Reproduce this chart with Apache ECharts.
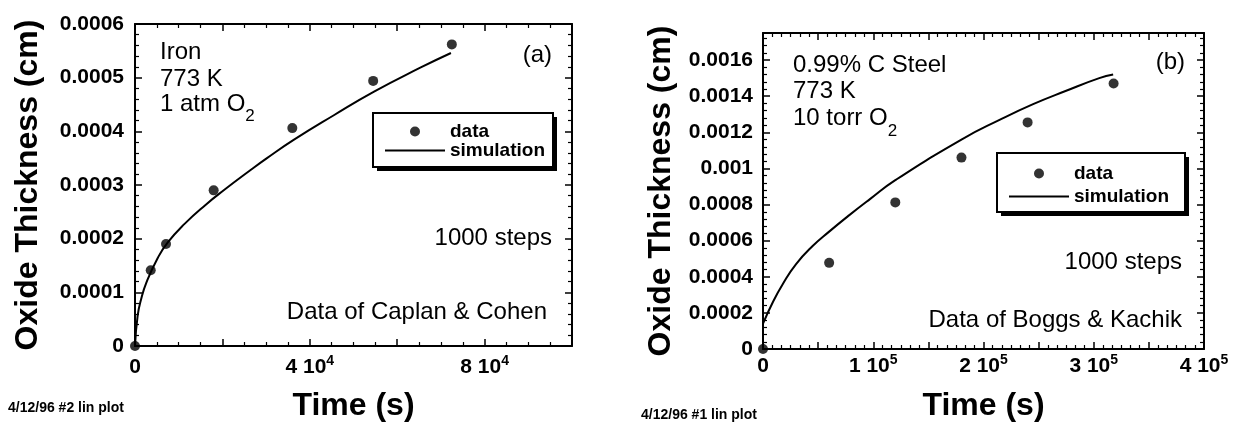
<!DOCTYPE html>
<html>
<head>
<meta charset="utf-8">
<script src="https://cdn.jsdelivr.net/npm/echarts@6.0.0/dist/echarts.min.js"></script>
<style>
  html, body { margin: 0; padding: 0; background: #fff; }
  #chart { width: 1233px; height: 427px; }
</style>
</head>
<body>
<div id="chart"></div>
<script>
// (a) Iron, 773 K, 1 atm O2 -- Caplan & Cohen
const timeA = [0, 3600, 7100, 18000, 36000, 54500, 72500];
const thickA = [0, 0.000141, 0.000190, 0.000290, 0.000406, 0.000494, 0.000562];
const simTimeA = [0, 600, 1400, 2600, 5200, 7500, 11400, 16000, 20600, 26300, 30200, 36300, 45500, 54700, 65400, 72300];
const simThickA = [0, 0.000056, 0.000087, 0.000118, 0.000164, 0.000193, 0.000228, 0.000262, 0.000292, 0.000327, 0.000350, 0.000384, 0.000430, 0.000474, 0.000519, 0.000546];

// (b) 0.99% C steel, 773 K, 10 torr O2 -- Boggs & Kachik
const timeB = [0, 60000, 120000, 180000, 240000, 318000];
const thickB = [0, 0.000477, 0.000812, 0.00106, 0.001255, 0.00147];
const simTimeB = [0, 9000, 18000, 30000, 45000, 60000, 78000, 97000, 120000, 180000, 215000, 245000, 275000, 305000, 317600];
const simThickB = [0.00014, 0.00026, 0.00036, 0.00047, 0.00057, 0.00065, 0.00074, 0.00083, 0.000935, 0.00116, 0.00127, 0.001356, 0.00143, 0.0015, 0.00152];

// labelled ticks
const xLabelsA = [0, 40000, 80000];
const xLabelsB = [0, 100000, 200000, 300000, 400000];
const seriesNames = ['data', 'simulation'];

const FONT = "'Liberation Sans', Arial, Helvetica, sans-serif";

function pairs(xs, ys) {
  return xs.map((x, i) => [x, ys[i]]);
}

function sciLabel(list, exp) {
  return function (v) {
    if (list.indexOf(v) < 0) return '';
    if (v === 0) return '0';
    return '{m|' + (v / Math.pow(10, exp)) + ' 10}{s|' + exp + '}';
  };
}

function decLabel(step) {
  return function (v) {
    const r = v / step;
    if (Math.abs(r - Math.round(r)) > 1e-6) return '';
    if (v === 0) return '0';
    return parseFloat(v.toFixed(5)).toString();
  };
}

const supRich = {
  m: { fontFamily: FONT, fontWeight: 'bold', fontSize: 21, lineHeight: 26, color: '#000' },
  s: { fontFamily: FONT, fontWeight: 'bold', fontSize: 14, lineHeight: 14, verticalAlign: 'top', color: '#000' }
};

function frameAxis(gridIndex, position, min, max, interval, minorSplit) {
  return {
    type: 'value',
    gridIndex: gridIndex,
    position: position,
    min: min,
    max: max,
    interval: interval,
    axisLine: { show: true, onZero: false, lineStyle: { color: '#000', width: 2 } },
    axisTick: { show: true, inside: true, length: 7, lineStyle: { color: '#000', width: 1.5 } },
    minorTick: { show: true, splitNumber: minorSplit, length: 4, lineStyle: { color: '#000', width: 1.2 } },
    splitLine: { show: false },
    minorSplitLine: { show: false },
    axisLabel: { show: false }
  };
}

const labelBase = { show: true, color: '#000', fontFamily: FONT, fontWeight: 'bold', fontSize: 21 };
const nameStyle = { color: '#000', fontFamily: FONT, fontWeight: 'bold', fontSize: 32 };

const xA = frameAxis(0, 'bottom', 0, 100000, 20000, 4);
xA.axisLabel = Object.assign({}, labelBase, { margin: 8, lineHeight: 26, formatter: sciLabel(xLabelsA, 4), rich: supRich });
xA.name = 'Time (s)';
xA.nameLocation = 'middle';
xA.nameGap = 44;
xA.nameTextStyle = nameStyle;

const xB = frameAxis(1, 'bottom', 0, 400000, 50000, 6);
xB.axisLabel = Object.assign({}, labelBase, { margin: 4, lineHeight: 26, formatter: sciLabel(xLabelsB, 5), rich: supRich });
xB.name = 'Time (s)';
xB.nameLocation = 'middle';
xB.nameGap = 41;
xB.nameTextStyle = nameStyle;

const yA = frameAxis(0, 'left', 0, 0.0006, 0.0001, 5);
yA.axisLabel = Object.assign({}, labelBase, { margin: 11, formatter: decLabel(0.0001) });
yA.name = 'Oxide Thickness (cm)';
yA.nameLocation = 'middle';
yA.nameGap = 91;
yA.nameTextStyle = nameStyle;

const yB = frameAxis(1, 'left', 0, 0.00175, 0.0002, 5);
yB.axisLabel = Object.assign({}, labelBase, { margin: 10, formatter: decLabel(0.0002) });
yB.name = 'Oxide Thickness (cm)';
yB.nameLocation = 'middle';
yB.nameGap = 86;
yB.nameTextStyle = nameStyle;

// flat 2px bar used as the legend glyph for the simulation line
const lineIcon = 'path://M0,0H30V1H0Z';

function legendBox(left, top, gap) {
  return {
    orient: 'vertical',
    left: left,
    top: top,
    z: 10,
    data: [{ name: seriesNames[0], icon: 'circle' }, { name: seriesNames[1], icon: lineIcon }],
    itemWidth: 60,
    itemHeight: 10,
    itemGap: gap,
    padding: 0,
    selectedMode: false,
    textStyle: { color: '#000', fontFamily: FONT, fontWeight: 'bold', fontSize: 19 }
  };
}

// drop shadow + framed box behind each legend
function shadowRect(x, y, w, h) {
  return { type: 'rect', silent: true, z: 5, shape: { x: x + 4, y: y + 4, width: w, height: h }, style: { fill: '#000' } };
}
function boxRect(x, y, w, h) {
  return { type: 'rect', silent: true, z: 6, shape: { x: x, y: y, width: w, height: h }, style: { fill: '#fff', stroke: '#000', lineWidth: 2 } };
}

function note(x, y, text, align, size, weight, rich, lineHeight) {
  const style = {
    text: text,
    x: 0, y: 0,
    fill: '#000',
    fontFamily: FONT,
    fontSize: size,
    fontWeight: weight || 'normal',
    align: align, textAlign: align,
    verticalAlign: 'middle', textVerticalAlign: 'middle'
  };
  if (rich) style.rich = rich;
  if (lineHeight) style.lineHeight = lineHeight;
  return { type: 'text', x: x, y: y, silent: true, style: style };
}

const subRich = { sub: { fontFamily: FONT, fontSize: 17, lineHeight: 17, verticalAlign: 'bottom', fill: '#000' } };

let chart = echarts.init(document.getElementById('chart'), null, { renderer: 'canvas' });

const option = {
  backgroundColor: '#fff',
  animation: false,
  grid: [
    { left: 135, top: 24, width: 437, height: 322.5 },
    { left: 763, top: 33, width: 441, height: 321.5 }
  ],
  xAxis: [
    xA,
    frameAxis(0, 'top', 0, 100000, 20000, 4),
    xB,
    frameAxis(1, 'top', 0, 400000, 50000, 6)
  ],
  yAxis: [
    yA,
    frameAxis(0, 'right', 0, 0.0006, 0.0001, 5),
    yB,
    frameAxis(1, 'right', 0, 0.00175, 0.0002, 5)
  ],
  legend: [
    legendBox(385, 122, 0),
    legendBox(1009, 164, 4)
  ],
  series: [
    {
      name: seriesNames[1], type: 'line', xAxisIndex: 0, yAxisIndex: 0,
      data: pairs(simTimeA, simThickA),
      smooth: 0.5, symbol: 'none', showSymbol: false,
      lineStyle: { color: '#000', width: 2 }, itemStyle: { color: '#000' }
    },
    {
      name: seriesNames[0], type: 'scatter', xAxisIndex: 0, yAxisIndex: 0,
      data: pairs(timeA, thickA), clip: false,
      symbol: 'circle', symbolSize: 10, itemStyle: { color: '#000' }
    },
    {
      name: seriesNames[1], type: 'line', xAxisIndex: 2, yAxisIndex: 2,
      data: pairs(simTimeB, simThickB),
      smooth: 0.5, symbol: 'none', showSymbol: false,
      lineStyle: { color: '#000', width: 2 }, itemStyle: { color: '#000' }
    },
    {
      name: seriesNames[0], type: 'scatter', xAxisIndex: 2, yAxisIndex: 2,
      data: pairs(timeB, thickB), clip: false,
      symbol: 'circle', symbolSize: 10, itemStyle: { color: '#000' }
    }
  ],
  graphic: [
    shadowRect(373, 113, 180, 54),
    boxRect(373, 113, 180, 54),
    shadowRect(997, 153, 188, 59),
    boxRect(997, 153, 188, 59),

    note(160, 52.5, 'Iron', 'left', 24),
    note(160, 79.5, '773 K', 'left', 24),
    note(160, 104, '1 atm O{sub|2}', 'left', 24, 'normal', subRich, 42),
    note(552, 55, '(a)', 'right', 24),
    note(552, 238, '1000 steps', 'right', 24),
    note(547, 312, 'Data of Caplan & Cohen', 'right', 24),
    note(8, 408, '4/12/96 #2 lin plot', 'left', 14, 'bold'),

    note(793, 65, '0.99% C Steel', 'left', 24),
    note(793, 91.7, '773 K', 'left', 24),
    note(793, 118.5, '10 torr O{sub|2}', 'left', 24, 'normal', subRich, 42),
    note(1185, 62, '(b)', 'right', 24),
    note(1182, 262, '1000 steps', 'right', 24),
    note(1182, 320, 'Data of Boggs & Kachik', 'right', 24),
    note(641, 415, '4/12/96 #1 lin plot', 'left', 14, 'bold')
  ]
};

chart.setOption(option);
</script>
</body>
</html>
